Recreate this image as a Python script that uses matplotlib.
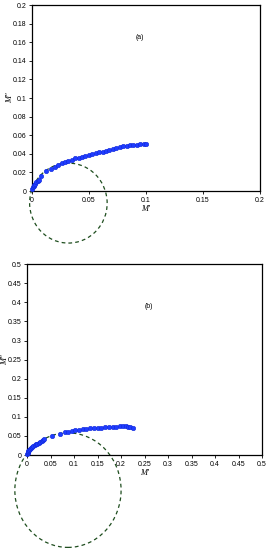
import matplotlib
matplotlib.use("Agg")
import matplotlib.pyplot as plt
from matplotlib.patches import Ellipse
import numpy as np

plt.rcParams['font.family'] = ['Liberation Sans', 'DejaVu Sans']

# panel (a) data: M' vs M''
xa = [0.0005, 0.001, 0.0015, 0.002, 0.003, 0.004, 0.005, 0.006, 0.008, 0.012,
      0.017, 0.020, 0.023, 0.026, 0.029, 0.032, 0.035, 0.038, 0.041, 0.044,
      0.047, 0.050, 0.053, 0.056, 0.059, 0.062, 0.065, 0.068, 0.071, 0.074,
      0.077, 0.080, 0.083, 0.086, 0.089, 0.092, 0.095, 0.098, 0.100]
ya = [0.002, 0.004, 0.005, 0.006, 0.008, 0.0095, 0.011, 0.012, 0.0165, 0.0215,
      0.0237, 0.026, 0.028, 0.030, 0.031, 0.032, 0.0335, 0.035, 0.036, 0.037,
      0.038, 0.039, 0.040, 0.041, 0.0418, 0.0425, 0.0435, 0.0445, 0.0455, 0.0465,
      0.047, 0.048, 0.0485, 0.049, 0.0495, 0.050, 0.0505, 0.051, 0.051]

# panel (b) data
xb = [0.0005, 0.001, 0.002, 0.003, 0.004, 0.005, 0.007, 0.009, 0.011, 0.013,
      0.016, 0.019, 0.022, 0.025, 0.028, 0.031, 0.034, 0.037, 0.054, 0.069,
      0.080, 0.088, 0.095, 0.102, 0.110, 0.118, 0.126, 0.134, 0.142, 0.150,
      0.158, 0.166, 0.174, 0.182, 0.190, 0.198, 0.205, 0.210, 0.215, 0.220, 0.225]
yb = [0.003, 0.005, 0.008, 0.010, 0.012, 0.014, 0.017, 0.019, 0.021, 0.023,
      0.026, 0.028, 0.030, 0.032, 0.035, 0.037, 0.039, 0.041, 0.050, 0.055,
      0.059, 0.061, 0.063, 0.065, 0.066, 0.068, 0.069, 0.070, 0.071, 0.072,
      0.072, 0.073, 0.073, 0.074, 0.074, 0.075, 0.075, 0.076, 0.074, 0.073, 0.072]

# fitted circles (centre x, centre y, width, height) in data units
circle_a = (0.032, -0.013, 0.068, 0.086)
circle_b = (0.087, -0.092, 0.226, 0.30)

fig = plt.figure(figsize=(2.68, 5.5), dpi=100)
ax1 = fig.add_axes([0.119, 0.6527, 0.851, 0.338])
ax2 = fig.add_axes([0.101, 0.1727, 0.877, 0.347])


def style(ax, lim, step, ylab_x):
    ax.set_xlim(0, lim)
    ax.set_ylim(0, lim)
    ax.set_xticks(np.arange(0, lim + step / 2, step))
    ax.set_yticks(np.arange(0, lim + step / 2, step))
    ax.xaxis.set_major_formatter(plt.FuncFormatter(lambda v, p: f"{v:g}"))
    ax.yaxis.set_major_formatter(plt.FuncFormatter(lambda v, p: f"{v:g}"))
    ax.tick_params(direction='out', length=2.5, width=0.6, labelsize=5, pad=1.5)
    for s in ax.spines.values():
        s.set_linewidth(0.9)
    ax.set_xlabel("M'", fontsize=6, family='Liberation Serif', style='italic', labelpad=1)
    ax.set_ylabel("M''", fontsize=6, family='Liberation Serif', style='italic')
    ax.yaxis.set_label_coords(ylab_x, 0.5)


for ax, x, y, c, lim, step, tag, tpos, lx in [
        (ax1, xa, ya, circle_a, 0.2, 0.05, '(a)', (0.095, 0.165), -0.077),
        (ax2, xb, yb, circle_b, 0.5, 0.05, '(b)', (0.26, 0.39), -0.077)]:
    ax.plot(x, y, 'o', ms=3.2, color='#1f3cff', mec='#1028d8', mew=0.4, clip_on=False, zorder=3)
    e = Ellipse((c[0], c[1]), c[2], c[3], fill=False, ec='#1e4d1e', lw=0.9,
                ls=(0, (3, 2.5)), clip_on=False, zorder=2)
    ax.add_patch(e)
    ax.text(tpos[0], tpos[1], tag, fontsize=5, ha='center', va='center')
    style(ax, lim, step, lx)

ax1.set_xticks([0, 0.05, 0.1, 0.15, 0.2])
ax1.set_yticks(np.arange(0, 0.201, 0.02))

fig.savefig("out.png", dpi=100)
